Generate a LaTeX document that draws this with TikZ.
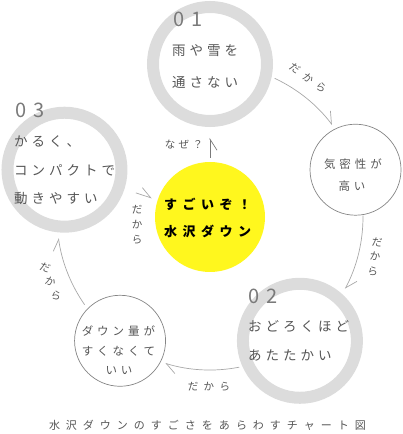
\documentclass[tikz,border=0pt]{standalone}
\usepackage{fontspec}
\setmainfont{Noto Sans CJK JP}
\usetikzlibrary{arrows.meta,calc}
\definecolor{ringgray}{HTML}{DCDCDC}
\definecolor{circgray}{HTML}{858585}
\definecolor{arrgray}{HTML}{A8A8A8}
\definecolor{txtgray}{HTML}{555555}
\definecolor{numgray}{HTML}{7A7A7A}
\definecolor{hubyellow}{HTML}{FFF71E}
\makeatletter
\def\lsp#1#2{\def\lsp@k{\kern#1}\lsp@a#2\@nil}
\def\lsp@a#1#2\@nil{#1\if\relax\detokenize{#2}\relax\else\lsp@k\lsp@a#2\@nil\fi}
\makeatother
\tikzset{
 ring/.style={circle,draw=ringgray,line width=12pt,minimum size=114pt,inner sep=0pt},
 smallcircle/.style={circle,draw=circgray,line width=0.7pt,minimum size=91pt,inner sep=0pt},
 hub/.style={circle,fill=hubyellow,minimum size=110pt,inner sep=0pt},
 num/.style={inner sep=0pt,text=numgray,font=\fontsize{20}{24}\selectfont},
 body/.style={inner sep=0pt,text=txtgray,font=\fontsize{13.5}{16}\selectfont},
 smtxt/.style={inner sep=0pt,text=txtgray,font=\fontsize{11.5}{14}\selectfont},
 hubtxt/.style={inner sep=0pt,text=black,font=\bfseries\fontsize{13}{15}\selectfont},
 lbl/.style={inner sep=0pt,text=txtgray,font=\fontsize{10.5}{15}\selectfont},
 captxt/.style={inner sep=0pt,text=txtgray,font=\fontsize{11}{13}\selectfont},
 arr/.style={draw=arrgray,line width=0.7pt,-{Straight Barb[harpoon,length=11pt,width=14pt]}},
 arrR/.style={draw=arrgray,line width=0.7pt,-{Straight Barb[harpoon,swap,length=11pt,width=14pt]}},
}
\begin{document}
\begin{tikzpicture}[x=1pt,y=1pt]
\useasboundingbox (0,0) rectangle (402,434);
\coordinate (C) at (210,217);
% main nodes
\node[ring] (r1) at ($(C)+(90:153)$) {};
\node[smallcircle] (km) at ($(C)+(18:153)$) {};
\node[ring] (r2) at ($(C)+(-54:153)$) {};
\node[smallcircle] (dn) at ($(C)+(-126:153)$) {};
\node[ring] (r3) at ($(C)+(162:153)$) {};
\node[hub] (yel) at (C) {};
% ring 1 texts
\node[num,anchor=west] (n1) at (173,414.5) {\lsp{7pt}{01}};
\node[body,anchor=west] (t1a) at (172,383) {\lsp{4pt}{雨や雪を}};
\node[body,anchor=west] (t1b) at (172,351.5) {\lsp{4pt}{通さない}};
% ring 3 texts
\node[num,anchor=west] (n3) at (15,324) {\lsp{7pt}{03}};
\node[body,anchor=west] (t3a) at (14,292.5) {\lsp{4pt}{かるく、}};
\node[body,anchor=west] (t3b) at (14,264) {\lsp{4pt}{コンパクトで}};
\node[body,anchor=west] (t3c) at (14,235.5) {\lsp{4pt}{動きやすい}};
% ring 2 texts
\node[num,anchor=west] (n2) at (248,137.5) {\lsp{7pt}{02}};
\node[body,anchor=west] (t2a) at (248,107.5) {\lsp{4pt}{おどろくほど}};
\node[body,anchor=west] (t2b) at (248,79) {\lsp{4pt}{あたたかい}};
% small circle texts
\node[smtxt] (k1) at (353,269.5) {\lsp{4pt}{気密性が}};
\node[smtxt] (k2) at (352,248) {\lsp{4pt}{高い}};
\node[smtxt] (d1) at (118.5,103) {\lsp{4pt}{ダウン量が}};
\node[smtxt] (d2) at (118.5,83) {\lsp{4pt}{すくなくて}};
\node[smtxt] (d3) at (119,63) {\lsp{4pt}{いい}};
% hub texts
\node[hubtxt,anchor=west] (h1) at (164,229.5) {\lsp{5.5pt}{すごいぞ！}};
\node[hubtxt,anchor=west] (h2) at (164,203) {\lsp{5.5pt}{水沢ダウン}};
% connectors
\draw[arr] ($(C)!1!-25:(r1)$) arc[start angle=65,end angle=37,radius=153];
\draw[arr] ($(C)!1!-17.5:(km)$) arc[start angle=0.5,end angle=-28,radius=153];
\draw[arr] ($(C)!1!-25:(r2)$) arc[start angle=-79,end angle=-107,radius=153];
\draw[arr] ($(C)!1!-19:(dn)$) arc[start angle=215,end angle=188,radius=153];
\draw[arr,shorten <=12pt,shorten >=6pt] (r3) -- (yel);
\draw[arrR,draw=numgray,shorten <=4pt,shorten >=11pt] (yel) -- (r1);
% labels
\node[lbl] (why) at (184,289) {\lsp{3.5pt}{なぜ？}};
\node[lbl,rotate=-35] (l1) at (308,356) {\lsp{5.5pt}{だから}};
\node[lbl,align=center,rotate=-8] (l2) at (375,177) {だ\\か\\ら};
\node[lbl] (l3) at (209,47) {\lsp{5.5pt}{だから}};
\node[lbl,rotate=-20] (l4a) at (45,166) {だ};
\node[lbl,rotate=-20] (l4b) at (50.5,152) {か};
\node[lbl,rotate=-20] (l4c) at (56,138) {ら};
\node[lbl,align=center] (l5) at (137,209) {だ\\か\\ら};
% caption
\node[captxt] (cap) at (207.5,9) {\lsp{6pt}{水沢ダウンのすごさをあらわすチャート図}};
\end{tikzpicture}
\end{document}
